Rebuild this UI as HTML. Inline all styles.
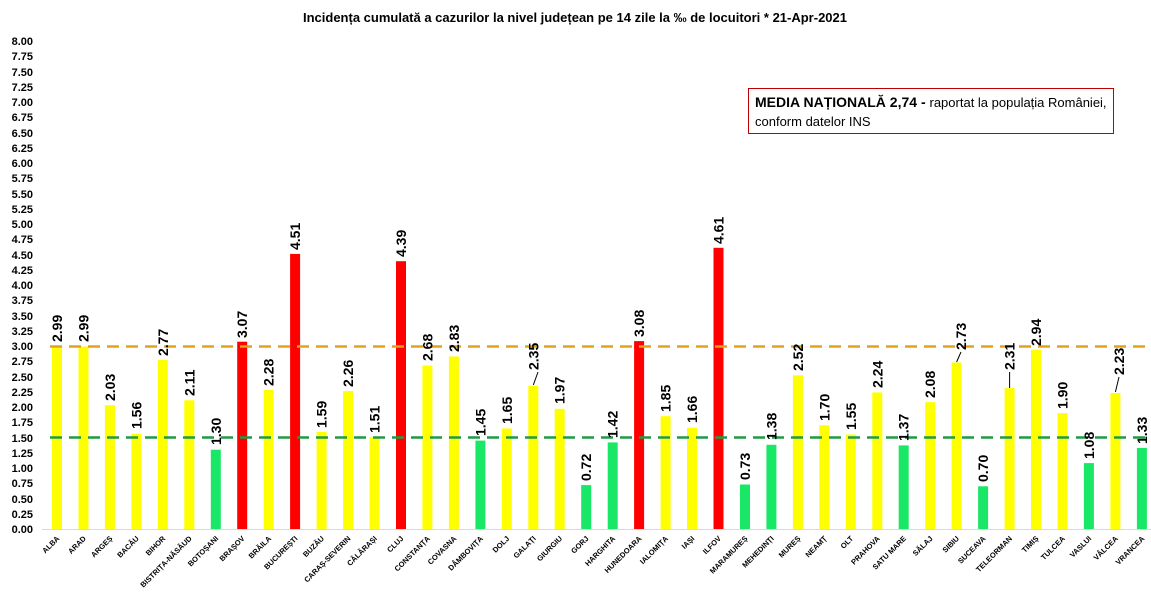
<!DOCTYPE html>
<html><head><meta charset="utf-8"><style>
body{margin:0;background:#fff}
svg{display:block;font-family:"Liberation Sans",sans-serif}
.yl{font-size:11px;font-weight:bold;text-anchor:end}
.v{font-size:14px;font-weight:bold}
.c{font-size:7.5px;font-weight:bold;text-anchor:end}
</style></head><body>
<svg width="1151" height="607" viewBox="0 0 1151 607">
<text x="575" y="22" text-anchor="middle" font-size="13" font-weight="bold">Incidența cumulată  a cazurilor la nivel județean pe 14 zile la ‰ de locuitori *   21-Apr-2021</text>
<g class="yl">
<text x="33" y="533">0.00</text><text x="33" y="518">0.25</text><text x="33" y="503">0.50</text><text x="33" y="487">0.75</text><text x="33" y="472">1.00</text><text x="33" y="457">1.25</text><text x="33" y="442">1.50</text><text x="33" y="426">1.75</text><text x="33" y="411">2.00</text><text x="33" y="396">2.25</text><text x="33" y="381">2.50</text><text x="33" y="365">2.75</text><text x="33" y="350">3.00</text><text x="33" y="335">3.25</text><text x="33" y="320">3.50</text><text x="33" y="304">3.75</text><text x="33" y="289">4.00</text><text x="33" y="274">4.25</text><text x="33" y="259">4.50</text><text x="33" y="243">4.75</text><text x="33" y="228">5.00</text><text x="33" y="213">5.25</text><text x="33" y="198">5.50</text><text x="33" y="182">5.75</text><text x="33" y="167">6.00</text><text x="33" y="152">6.25</text><text x="33" y="137">6.50</text><text x="33" y="121">6.75</text><text x="33" y="106">7.00</text><text x="33" y="91">7.25</text><text x="33" y="76">7.50</text><text x="33" y="60">7.75</text><text x="33" y="45">8.00</text>
</g>
<line x1="42" y1="529.5" x2="1151" y2="529.5" stroke="#d9d9d9"/>
<g>
<rect x="52" y="346.6" width="10" height="182.4" fill="#ffff00"/>
<rect x="78.5" y="346.6" width="10" height="182.4" fill="#ffff00"/>
<rect x="104.9" y="405.2" width="10" height="123.8" fill="#ffff00"/>
<rect x="131.4" y="433.8" width="10" height="95.2" fill="#ffff00"/>
<rect x="157.8" y="360" width="10" height="169" fill="#ffff00"/>
<rect x="184.3" y="400.3" width="10" height="128.7" fill="#ffff00"/>
<rect x="210.8" y="449.7" width="10" height="79.3" fill="#19e866"/>
<rect x="237.2" y="341.7" width="10" height="187.3" fill="#ff0000"/>
<rect x="263.7" y="389.9" width="10" height="139.1" fill="#ffff00"/>
<rect x="290.1" y="253.9" width="10" height="275.1" fill="#ff0000"/>
<rect x="316.6" y="432" width="10" height="97" fill="#ffff00"/>
<rect x="343.1" y="391.1" width="10" height="137.9" fill="#ffff00"/>
<rect x="369.5" y="436.9" width="10" height="92.1" fill="#ffff00"/>
<rect x="396" y="261.2" width="10" height="267.8" fill="#ff0000"/>
<rect x="422.4" y="365.5" width="10" height="163.5" fill="#ffff00"/>
<rect x="448.9" y="356.4" width="10" height="172.6" fill="#ffff00"/>
<rect x="475.4" y="440.6" width="10" height="88.4" fill="#19e866"/>
<rect x="501.8" y="428.4" width="10" height="100.6" fill="#ffff00"/>
<rect x="528.3" y="385.7" width="10" height="143.3" fill="#ffff00"/>
<rect x="554.7" y="408.8" width="10" height="120.2" fill="#ffff00"/>
<rect x="581.2" y="485.1" width="10" height="43.9" fill="#19e866"/>
<rect x="607.7" y="442.4" width="10" height="86.6" fill="#19e866"/>
<rect x="634.1" y="341.1" width="10" height="187.9" fill="#ff0000"/>
<rect x="660.6" y="416.2" width="10" height="112.8" fill="#ffff00"/>
<rect x="687" y="427.7" width="10" height="101.3" fill="#ffff00"/>
<rect x="713.5" y="247.8" width="10" height="281.2" fill="#ff0000"/>
<rect x="740" y="484.5" width="10" height="44.5" fill="#19e866"/>
<rect x="766.4" y="444.8" width="10" height="84.2" fill="#19e866"/>
<rect x="792.9" y="375.3" width="10" height="153.7" fill="#ffff00"/>
<rect x="819.3" y="425.3" width="10" height="103.7" fill="#ffff00"/>
<rect x="845.8" y="434.5" width="10" height="94.5" fill="#ffff00"/>
<rect x="872.3" y="392.4" width="10" height="136.6" fill="#ffff00"/>
<rect x="898.7" y="445.4" width="10" height="83.6" fill="#19e866"/>
<rect x="925.2" y="402.1" width="10" height="126.9" fill="#ffff00"/>
<rect x="951.6" y="362.5" width="10" height="166.5" fill="#ffff00"/>
<rect x="978.1" y="486.3" width="10" height="42.7" fill="#19e866"/>
<rect x="1004.6" y="388.1" width="10" height="140.9" fill="#ffff00"/>
<rect x="1031" y="349.7" width="10" height="179.3" fill="#ffff00"/>
<rect x="1057.5" y="413.1" width="10" height="115.9" fill="#ffff00"/>
<rect x="1083.9" y="463.1" width="10" height="65.9" fill="#19e866"/>
<rect x="1110.4" y="393" width="10" height="136" fill="#ffff00"/>
<rect x="1136.9" y="447.9" width="10" height="81.1" fill="#19e866"/>
</g>
<line x1="50" y1="346.5" x2="1151" y2="346.5" stroke="#e3a21a" stroke-width="2.5" stroke-dasharray="12,7"/>
<line x1="50" y1="437.5" x2="1151" y2="437.5" stroke="#1f9a46" stroke-width="2.5" stroke-dasharray="12,7"/>
<g class="v">
<text transform="translate(62,342) rotate(-90)">2.99</text>
<text transform="translate(88.5,342) rotate(-90)">2.99</text>
<text transform="translate(115,401) rotate(-90)">2.03</text>
<text transform="translate(141.4,429) rotate(-90)">1.56</text>
<text transform="translate(167.8,356) rotate(-90)">2.77</text>
<text transform="translate(194.3,396) rotate(-90)">2.11</text>
<text transform="translate(220.8,445) rotate(-90)">1.30</text>
<text transform="translate(247.2,338) rotate(-90)">3.07</text>
<text transform="translate(273.7,386) rotate(-90)">2.28</text>
<text transform="translate(300.1,250) rotate(-90)">4.51</text>
<text transform="translate(326.6,428) rotate(-90)">1.59</text>
<text transform="translate(353.1,387) rotate(-90)">2.26</text>
<text transform="translate(379.5,433) rotate(-90)">1.51</text>
<text transform="translate(406,257) rotate(-90)">4.39</text>
<text transform="translate(432.4,361) rotate(-90)">2.68</text>
<text transform="translate(458.9,352) rotate(-90)">2.83</text>
<text transform="translate(485.4,436) rotate(-90)">1.45</text>
<text transform="translate(511.8,424) rotate(-90)">1.65</text>
<text transform="translate(538.3,370) rotate(-90)">2.35</text>
<text transform="translate(564.7,404) rotate(-90)">1.97</text>
<text transform="translate(591.2,481) rotate(-90)">0.72</text>
<text transform="translate(617.7,438) rotate(-90)">1.42</text>
<text transform="translate(644.1,337) rotate(-90)">3.08</text>
<text transform="translate(670.6,412) rotate(-90)">1.85</text>
<text transform="translate(697,423) rotate(-90)">1.66</text>
<text transform="translate(723.5,244) rotate(-90)">4.61</text>
<text transform="translate(750,480) rotate(-90)">0.73</text>
<text transform="translate(776.4,440) rotate(-90)">1.38</text>
<text transform="translate(802.9,371) rotate(-90)">2.52</text>
<text transform="translate(829.3,421) rotate(-90)">1.70</text>
<text transform="translate(855.8,430) rotate(-90)">1.55</text>
<text transform="translate(882.3,388) rotate(-90)">2.24</text>
<text transform="translate(908.7,441) rotate(-90)">1.37</text>
<text transform="translate(935.2,398) rotate(-90)">2.08</text>
<text transform="translate(966,350) rotate(-90)">2.73</text>
<text transform="translate(988.1,482) rotate(-90)">0.70</text>
<text transform="translate(1014.6,370) rotate(-90)">2.31</text>
<text transform="translate(1041,346) rotate(-90)">2.94</text>
<text transform="translate(1067.5,409) rotate(-90)">1.90</text>
<text transform="translate(1093.9,459) rotate(-90)">1.08</text>
<text transform="translate(1124,375) rotate(-90)">2.23</text>
<text transform="translate(1146.9,444) rotate(-90)">1.33</text>
</g>
<g stroke="#000" stroke-width="1">
<line x1="533.3" y1="385" x2="538" y2="372"/>
<line x1="956.6" y1="362" x2="961" y2="352"/>
<line x1="1009.6" y1="388" x2="1009.6" y2="372"/>
<line x1="1115.4" y1="392" x2="1119" y2="377"/>
</g>
<g class="c">
<text transform="translate(60,539) rotate(-45)">ALBA</text>
<text transform="translate(86.5,539) rotate(-45)">ARAD</text>
<text transform="translate(112.9,539) rotate(-45)">ARGEȘ</text>
<text transform="translate(139.4,539) rotate(-45)">BACĂU</text>
<text transform="translate(165.8,539) rotate(-45)">BIHOR</text>
<text transform="translate(192.3,539) rotate(-45)">BISTRIȚA-NĂSĂUD</text>
<text transform="translate(218.8,539) rotate(-45)">BOTOȘANI</text>
<text transform="translate(245.2,539) rotate(-45)">BRAȘOV</text>
<text transform="translate(271.7,539) rotate(-45)">BRĂILA</text>
<text transform="translate(298.1,539) rotate(-45)">BUCUREȘTI</text>
<text transform="translate(324.6,539) rotate(-45)">BUZĂU</text>
<text transform="translate(351.1,539) rotate(-45)">CARAȘ-SEVERIN</text>
<text transform="translate(377.5,539) rotate(-45)">CĂLĂRAȘI</text>
<text transform="translate(404,539) rotate(-45)">CLUJ</text>
<text transform="translate(430.4,539) rotate(-45)">CONSTANȚA</text>
<text transform="translate(456.9,539) rotate(-45)">COVASNA</text>
<text transform="translate(483.4,539) rotate(-45)">DÂMBOVIȚA</text>
<text transform="translate(509.8,539) rotate(-45)">DOLJ</text>
<text transform="translate(536.3,539) rotate(-45)">GALAȚI</text>
<text transform="translate(562.7,539) rotate(-45)">GIURGIU</text>
<text transform="translate(589.2,539) rotate(-45)">GORJ</text>
<text transform="translate(615.7,539) rotate(-45)">HARGHITA</text>
<text transform="translate(642.1,539) rotate(-45)">HUNEDOARA</text>
<text transform="translate(668.6,539) rotate(-45)">IALOMIȚA</text>
<text transform="translate(695,539) rotate(-45)">IAȘI</text>
<text transform="translate(721.5,539) rotate(-45)">ILFOV</text>
<text transform="translate(748,539) rotate(-45)">MARAMUREȘ</text>
<text transform="translate(774.4,539) rotate(-45)">MEHEDINȚI</text>
<text transform="translate(800.9,539) rotate(-45)">MUREȘ</text>
<text transform="translate(827.3,539) rotate(-45)">NEAMȚ</text>
<text transform="translate(853.8,539) rotate(-45)">OLT</text>
<text transform="translate(880.3,539) rotate(-45)">PRAHOVA</text>
<text transform="translate(906.7,539) rotate(-45)">SATU MARE</text>
<text transform="translate(933.2,539) rotate(-45)">SĂLAJ</text>
<text transform="translate(959.6,539) rotate(-45)">SIBIU</text>
<text transform="translate(986.1,539) rotate(-45)">SUCEAVA</text>
<text transform="translate(1012.6,539) rotate(-45)">TELEORMAN</text>
<text transform="translate(1039,539) rotate(-45)">TIMIȘ</text>
<text transform="translate(1065.5,539) rotate(-45)">TULCEA</text>
<text transform="translate(1091.9,539) rotate(-45)">VASLUI</text>
<text transform="translate(1118.4,539) rotate(-45)">VÂLCEA</text>
<text transform="translate(1144.9,539) rotate(-45)">VRANCEA</text>
</g>
<rect x="748.5" y="88.5" width="365" height="45" fill="#fff" stroke="#c00000" stroke-width="1"/>
<text x="755" y="107" font-size="14"><tspan font-weight="bold">MEDIA NAȚIONALĂ 2,74 - </tspan><tspan font-size="13">raportat la populația României,</tspan></text>
<text x="755" y="126" font-size="13">conform datelor INS</text>
</svg>
</body></html>
